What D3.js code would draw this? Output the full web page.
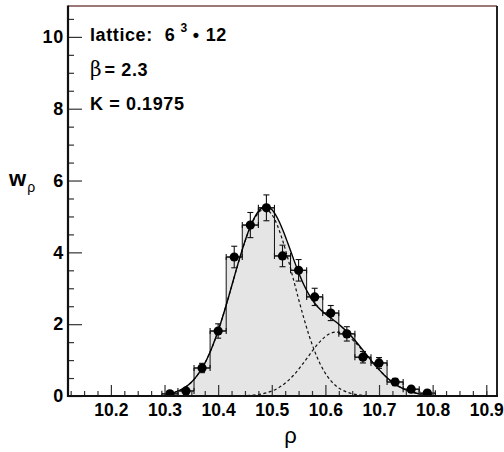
<!DOCTYPE html>
<html><head><meta charset="utf-8">
<script src="https://cdn.jsdelivr.net/npm/d3@7"></script>
<style>body{margin:0;background:#fff;} svg{display:block;}</style>
</head><body><svg id="c" width="504" height="452"></svg>
<script>
// ---------- data ----------
const binCenters = [10.31,10.34,10.37,10.40,10.43,10.46,10.49,10.52,10.55,10.58,10.61,10.64,10.67,10.70,10.73,10.76,10.79];
const wValues    = [0.06,0.14,0.78,1.81,3.87,4.76,5.24,3.90,3.50,2.76,2.31,1.73,1.08,0.92,0.39,0.19,0.08];
const wErrors    = [0.05,0.06,0.13,0.20,0.30,0.35,0.36,0.30,0.30,0.24,0.21,0.20,0.16,0.15,0.10,0.08,0.06];
const binWidth = 0.03;

const curveRho = [10.30,10.31,10.32,10.33,10.34,10.35,10.36,10.37,10.38,10.39,10.40,10.41,10.42,10.43,10.44,10.45,10.46,10.47,10.48,10.49,10.50,
                  10.51,10.52,10.53,10.54,10.55,10.56,10.57,10.58,10.59,10.60,10.61,10.62,10.63,10.64,10.65,10.66,10.67,10.68,10.69,10.70,
                  10.71,10.72,10.73,10.74,10.75,10.76,10.77,10.78,10.79,10.80];
const peak1 = [0.040,0.067,0.108,0.170,0.259,0.384,0.554,0.777,1.060,1.408,1.817,2.282,2.787,3.311,3.826,4.300,4.699,4.996,5.165,5.192,5.057,
               4.765,4.344,3.831,3.269,2.698,2.155,1.665,1.245,0.901,0.630,0.426,0.279,0.177,0.109,0.064,0.037,0.020,0.011,0.006,0.003,
               0.002,0.001,0,0,0,0,0,0,0,0];
const peak2 = [0,0,0,0,0,0,0,0,0,0,0.0003,0.0007,0.0014,0.0029,0.0056,0.0104,0.0187,0.0325,0.0543,0.088,0.137,
               0.206,0.300,0.421,0.570,0.744,0.938,1.141,1.339,1.516,1.658,1.749,1.780,1.755,1.684,1.571,1.425,1.258,1.080,0.901,0.732,
               0.578,0.444,0.331,0.241,0.170,0.117,0.078,0.051,0.032,0.020];
const totalFit = [0.040,0.067,0.108,0.170,0.259,0.384,0.554,0.777,1.060,1.408,1.817,2.283,2.788,3.314,3.832,4.310,4.718,5.029,5.219,5.280,5.194,
                  4.971,4.644,4.252,3.839,3.442,3.093,2.806,2.584,2.417,2.288,2.175,2.059,1.932,1.793,1.635,1.462,1.278,1.091,0.907,0.735,
                  0.580,0.445,0.331,0.241,0.170,0.117,0.078,0.051,0.032,0.020];

const xTicks = [10.2,10.3,10.4,10.5,10.6,10.7,10.8,10.9];
const xMinor = [10.125,10.15,10.175,10.225,10.25,10.275,10.325,10.35,10.375,10.425,10.45,10.475,10.525,10.55,10.575,
                10.625,10.65,10.675,10.725,10.75,10.775,10.825,10.85,10.875,10.9];
const yTicks = [0,2,4,6,8,10];
const yMinor = [0.5,1,1.5,2.5,3,3.5,4.5,5,5.5,6.5,7,7.5,8.5,9,9.5,10.5];

// ---------- drawing ----------
const svg = d3.select("#c");
const L = 68, R = 497, T = 6, B = 396;
const x = d3.scaleLinear().domain([10.12, 10.92]).range([L, R]);
const y = d3.scaleLinear().domain([0, 10.86]).range([B, T]);
const font = "'Liberation Sans', Arial, Helvetica, sans-serif";

svg.append("defs").append("clipPath").attr("id","clip")
  .append("rect").attr("x",L).attr("y",T).attr("width",R-L).attr("height",B-T);
const plot = svg.append("g").attr("clip-path","url(#clip)");

const bins = binCenters.map((c,i)=>({c, v:wValues[i], e:wErrors[i], l:c-binWidth/2, r:c+binWidth/2}));
const fit = curveRho.map((r,i)=>({r, g1:peak1[i], g2:peak2[i], t:totalFit[i]}));

const stepPts = [];
bins.forEach(b=>{ stepPts.push([b.l, b.v]); stepPts.push([b.r, b.v]); });

const fillCol = "#e5e5e5";
plot.append("path").datum(stepPts)
  .attr("d", d3.area().x(d=>x(d[0])).y0(y(0)).y1(d=>y(d[1])))
  .attr("fill", fillCol);
plot.append("path").datum(fit)
  .attr("d", d3.area().x(d=>x(d.r)).y0(y(0)).y1(d=>y(d.t)).curve(d3.curveCatmullRom))
  .attr("fill", fillCol);

const outline = [[bins[0].l,0]].concat(stepPts).concat([[bins[bins.length-1].r,0]]);
plot.append("path").datum(outline)
  .attr("d", d3.line().x(d=>x(d[0])).y(d=>y(d[1])))
  .attr("fill","none").attr("stroke","#111").attr("stroke-width",1);

["g1","g2"].forEach(k=>{
  plot.append("path").datum(fit)
    .attr("d", d3.line().x(d=>x(d.r)).y(d=>y(d[k])).curve(d3.curveCatmullRom))
    .attr("fill","none").attr("stroke","#111").attr("stroke-width",1.2)
    .attr("stroke-dasharray","3,2.5");
});
plot.append("path").datum(fit)
  .attr("d", d3.line().x(d=>x(d.r)).y(d=>y(d.t)).curve(d3.curveCatmullRom))
  .attr("fill","none").attr("stroke","#000").attr("stroke-width",1.4);

const eb = plot.append("g").attr("stroke","#111").attr("stroke-width",1.1);
bins.forEach(b=>{
  const cx = x(b.c), cy = y(b.v);
  eb.append("line").attr("x1",cx).attr("x2",cx).attr("y1",y(b.v-b.e)).attr("y2",y(b.v+b.e));
  [b.v-b.e, b.v+b.e].forEach(v=>{
    eb.append("line").attr("x1",cx-3).attr("x2",cx+3).attr("y1",y(v)).attr("y2",y(v));
  });
  eb.append("line").attr("x1",x(b.l)).attr("x2",x(b.r)).attr("y1",cy).attr("y2",cy);
  [b.l,b.r].forEach(r=>{
    eb.append("line").attr("x1",x(r)).attr("x2",x(r)).attr("y1",cy-3).attr("y2",cy+3);
  });
});
plot.append("g").selectAll("circle").data(bins).join("circle")
  .attr("cx",d=>x(d.c)).attr("cy",d=>y(d.v)).attr("r",4.6).attr("fill","#000");

function styleAxis(g, size, ls){
  g.select(".domain").remove();
  g.selectAll(".tick line").attr("stroke","#333").attr("stroke-width",1.2);
  g.selectAll("text").attr("font-family",font).attr("font-weight","bold")
    .attr("font-size",size+"px").attr("letter-spacing",ls+"px").attr("fill","#000");
}
svg.append("g").attr("transform",`translate(${L},0)`)
  .call(d3.axisLeft(y).tickValues(yMinor).tickSize(-6).tickFormat(""))
  .call(styleAxis, 18, 0);
svg.append("g").attr("transform",`translate(${L},0)`)
  .call(d3.axisLeft(y).tickValues(yTicks).tickSize(-14).tickPadding(4).tickFormat(d3.format("d")))
  .call(styleAxis, 18, 0.7);
svg.append("g").attr("transform",`translate(0,${B})`)
  .call(d3.axisBottom(x).tickValues(xMinor).tickSize(-5).tickFormat(""))
  .call(styleAxis, 18, 0);
svg.append("g").attr("transform",`translate(0,${B})`)
  .call(d3.axisBottom(x).tickValues(xTicks).tickSize(-11).tickPadding(8).tickFormat(d3.format(".1f")))
  .call(styleAxis, 17.5, 0);

svg.append("line").attr("x1",L).attr("x2",R).attr("y1",T).attr("y2",T).attr("stroke","#7a4c4c").attr("stroke-width",1.5);
svg.append("line").attr("x1",R).attr("x2",R).attr("y1",T).attr("y2",B).attr("stroke","#222").attr("stroke-width",2);
svg.append("line").attr("x1",L).attr("x2",L).attr("y1",T-0.5).attr("y2",B+1).attr("stroke","#111").attr("stroke-width",2.2);
svg.append("line").attr("x1",L).attr("x2",R+1).attr("y1",B).attr("y2",B).attr("stroke","#111").attr("stroke-width",2.2);

const yl = svg.append("text").attr("x",9).attr("y",186).attr("font-family",font).attr("fill","#000");
yl.append("tspan").text("w").attr("font-weight","bold").attr("font-size","22px");
yl.append("tspan").text("ρ").attr("font-size","14px").attr("dy",6).attr("dx",1);
svg.append("text").attr("x",x(10.535)).attr("y",443).attr("text-anchor","middle")
  .attr("font-family",font).attr("font-size","22px").attr("fill","#000").text("ρ");

const t1 = svg.append("text").attr("x",90).attr("y",41).attr("font-family",font)
  .attr("font-weight","bold").attr("font-size","18px").attr("letter-spacing","0.6px").attr("fill","#000");
t1.append("tspan").text("lattice:");
t1.append("tspan").attr("dx",12).text("6");
t1.append("tspan").attr("dx",5).attr("dy",-9).attr("font-size","12px").text("3");
t1.append("tspan").attr("dx",5).attr("dy",9).text("•");
t1.append("tspan").attr("dx",6).text("12");

const t2 = svg.append("text").attr("x",90).attr("y",76).attr("font-family",font)
  .attr("font-size","18px").attr("fill","#000");
t2.append("tspan").attr("font-family","'DejaVu Serif', serif").attr("font-size","20px").text("β");
t2.append("tspan").attr("font-weight","bold").attr("letter-spacing","0.6px").attr("dx",3).text("= 2.3");

svg.append("text").attr("x",90).attr("y",110).attr("font-family",font)
  .attr("font-weight","bold").attr("font-size","18px").attr("letter-spacing","0.6px").attr("fill","#000").text("K = 0.1975");
</script></body></html>
